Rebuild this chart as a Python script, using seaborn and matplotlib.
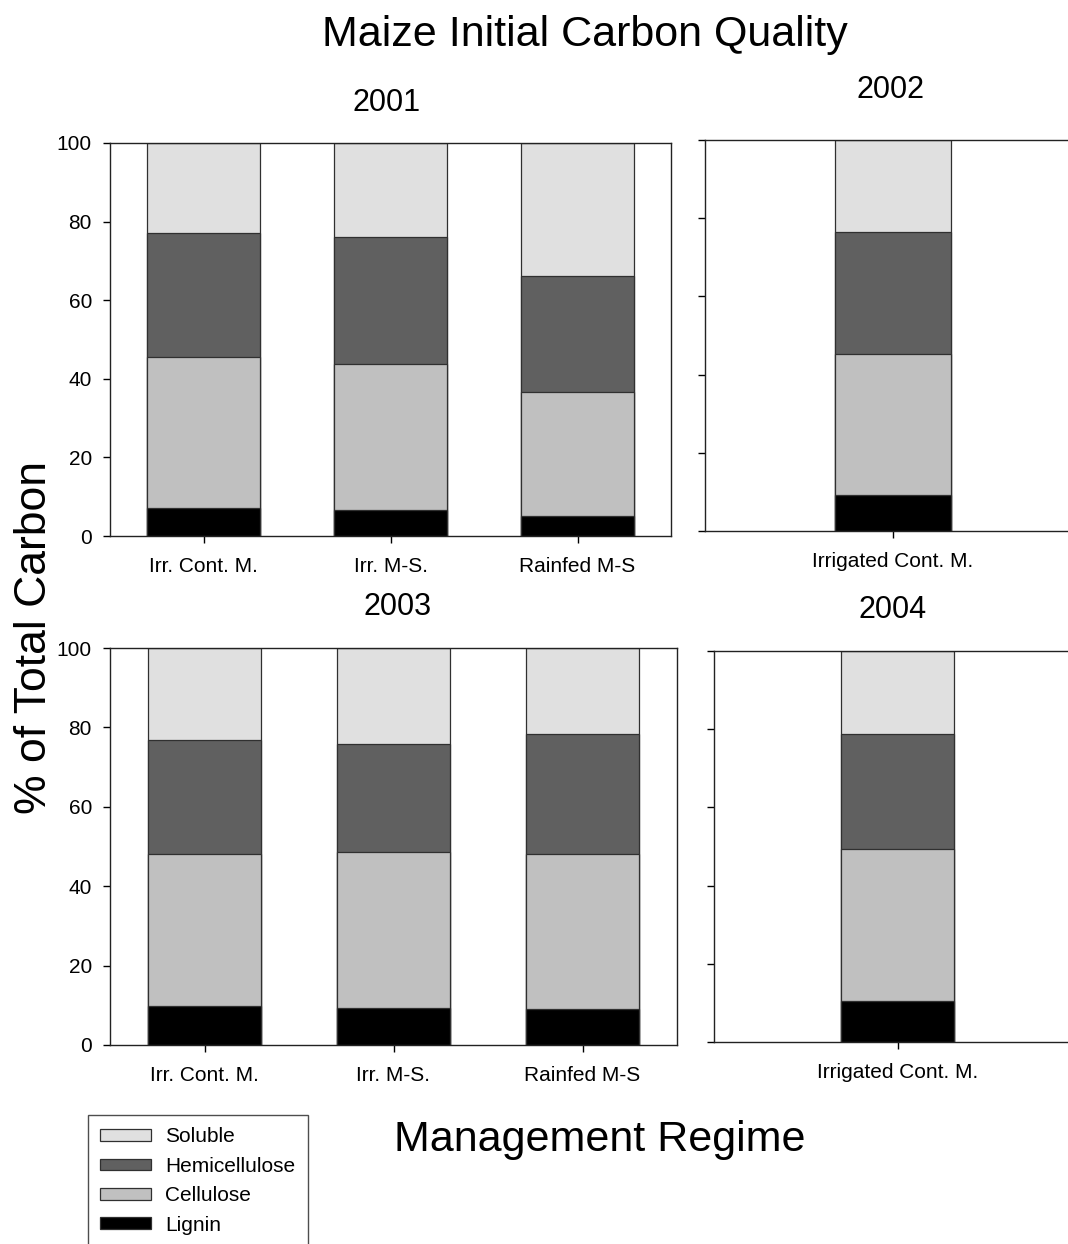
import matplotlib
matplotlib.use("Agg")
import matplotlib.pyplot as plt
from matplotlib.patches import Patch
import seaborn as sns

# Carbon fractions (% of total carbon) per management regime and year
regimes_3 = ["Irr. Cont. M.", "Irr. M-S.", "Rainfed M-S"]
regimes_1 = ["Irrigated Cont. M."]

lignin_2001 = [7.1, 6.6, 5.1]
cellulose_2001 = [38.4, 37.2, 31.5]
hemicellulose_2001 = [31.6, 32.2, 29.6]
soluble_2001 = [22.9, 24.0, 33.8]

lignin_2002 = [9.2]
cellulose_2002 = [36.1]
hemicellulose_2002 = [31.2]
soluble_2002 = [23.5]

lignin_2003 = [9.8, 9.4, 9.1]
cellulose_2003 = [38.3, 39.1, 39.1]
hemicellulose_2003 = [28.8, 27.3, 30.1]
soluble_2003 = [23.1, 24.2, 21.7]

lignin_2004 = [10.4]
cellulose_2004 = [39.0]
hemicellulose_2004 = [29.3]
soluble_2004 = [21.3]

fractions = ["Soluble", "Hemicellulose", "Cellulose", "Lignin"]
fraction_colors = {"Soluble": "#e0e0e0", "Hemicellulose": "#606060",
                   "Cellulose": "#c0c0c0", "Lignin": "#000000"}

sns.set_theme(style="white")
plt.rcParams["font.family"] = ["Liberation Sans", "DejaVu Sans"]
plt.rcParams.update({"text.color": "black", "axes.labelcolor": "black",
                     "xtick.color": "black", "ytick.color": "black"})

W, H = 1068, 1244
fig = plt.figure(figsize=(W / 100, H / 100), dpi=100)


def px_axes(left, top, right, bottom):
    return fig.add_axes([left / W, 1 - bottom / H, (right - left) / W, (bottom - top) / H])


def stacked(ax, cats, lignin, cellulose, hemi, soluble, show_ylabels):
    # cumulative tops, drawn from the tallest layer down
    c1 = list(lignin)
    c2 = [a + b for a, b in zip(c1, cellulose)]
    c3 = [a + b for a, b in zip(c2, hemi)]
    c4 = [a + b for a, b in zip(c3, soluble)]
    for name, tops in zip(fractions, [c4, c3, c2, c1]):
        sns.barplot(x=cats, y=tops, color=fraction_colors[name], saturation=1,
                    width=0.6, edgecolor="#303030", linewidth=0.9,
                    errorbar=None, ax=ax)
    ax.set_ylim(0, 100)
    ax.set_yticks(range(0, 101, 20))
    if not show_ylabels:
        ax.set_yticklabels([])
    ax.set_xlabel("")
    ax.set_ylabel("")
    ax.tick_params(axis="both", direction="out", length=5, width=1,
                   color="black", labelcolor="black", labelsize=15,
                   bottom=True, left=True)
    ax.tick_params(axis="y", pad=8)
    ax.tick_params(axis="x", pad=10)
    for s in ax.spines.values():
        s.set_color("#222222")
        s.set_linewidth(1.0)


ax1 = px_axes(110, 143, 671, 536)
stacked(ax1, regimes_3, lignin_2001, cellulose_2001, hemicellulose_2001, soluble_2001, True)
ax1.set_xlim(-0.5, 2.5)

ax2 = px_axes(705, 140, 1081, 531)
stacked(ax2, regimes_1, lignin_2002, cellulose_2002, hemicellulose_2002, soluble_2002, False)
ax2.set_xlim(-0.98, 0.98)

ax3 = px_axes(110, 648, 677, 1045)
stacked(ax3, regimes_3, lignin_2003, cellulose_2003, hemicellulose_2003, soluble_2003, True)
ax3.set_xlim(-0.5, 2.5)

ax4 = px_axes(714, 651, 1081, 1042)
stacked(ax4, regimes_1, lignin_2004, cellulose_2004, hemicellulose_2004, soluble_2004, False)
ax4.set_xlim(-0.98, 0.98)

# panel years
for txt, xc, yc in [("2001", 387, 103), ("2002", 891, 90), ("2003", 398, 607), ("2004", 893, 610)]:
    fig.text(xc / W, 1 - yc / H, txt, ha="center", va="center", fontsize=22, color="black")

fig.text(585 / W, 1 - 35 / H, "Maize Initial Carbon Quality", ha="center", va="center",
         fontsize=31, color="black")
fig.text(35 / W, 1 - 637 / H, "% of Total Carbon", ha="center", va="center",
         rotation=90, fontsize=32, color="black")
fig.text(600 / W, 1 - 1140 / H, "Management Regime", ha="center", va="center",
         fontsize=31, color="black")

handles = [Patch(facecolor=fraction_colors[n], edgecolor="#303030", linewidth=0.9, label=n)
           for n in fractions]
leg = fig.legend(handles=handles, loc="upper left",
                 bbox_to_anchor=(88 / W, 1 - 1115 / H), fontsize=15,
                 frameon=True, fancybox=False, handlelength=2.4, handleheight=0.5,
                 handletextpad=0.7, labelspacing=0.5, borderpad=0.6,
                 borderaxespad=0)
leg.get_frame().set_edgecolor("#222222")
leg.get_frame().set_linewidth(1.0)
for t in leg.get_texts():
    t.set_color("black")

fig.savefig("out.png", dpi=100)
